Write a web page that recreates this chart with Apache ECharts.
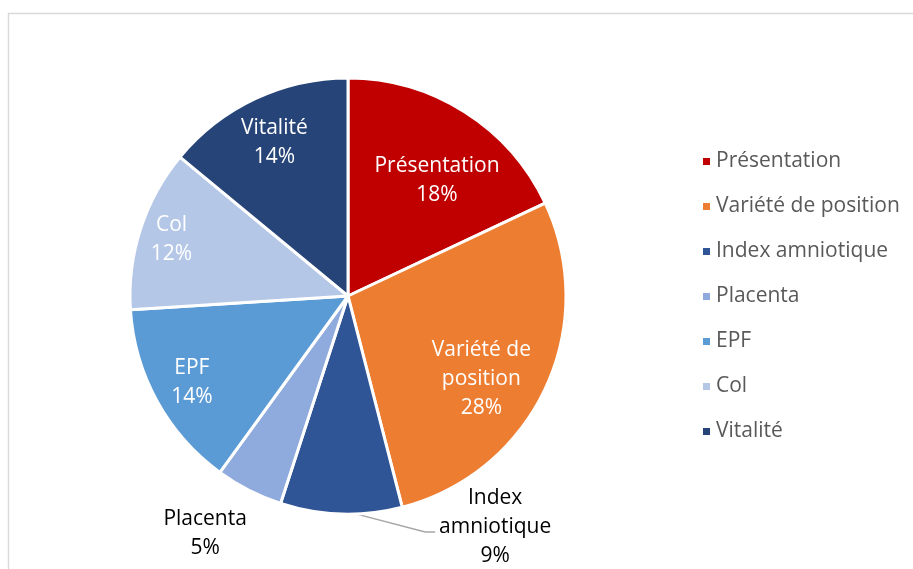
<!DOCTYPE html>
<html>
<head>
<meta charset="utf-8">
<script src="https://cdn.jsdelivr.net/npm/echarts@6/dist/echarts.min.js"></script>
<style>html,body{margin:0;padding:0;background:#fff;}#c{width:913px;height:569px;}</style>
</head>
<body>
<div id="c"></div>
<script>
const categories = ['Présentation', 'Variété de position', 'Index amniotique', 'Placenta', 'EPF', 'Col', 'Vitalité'];
const values = [18, 28, 9, 5, 14, 12, 14];
const colors = ['#C00000', '#ED7D31', '#2F5597', '#8FAADC', '#5B9BD5', '#B4C7E7', '#264478'];
// label styling per slice (offsets relative to the default inside position)
const labelOffsets = [[29, -21], [32, 35], null, [-92, 138], [-58, 33], [-70, -22], [-26, -52]];
const wrapLabel = [false, true, true, false, false, false, false];

const FONT = 'Open Sans';
const chart = echarts.init(document.getElementById('c'), null, {renderer: 'canvas'});

const data = categories.map((name, i) => {
  const item = {name: name, value: values[i], itemStyle: {color: colors[i]}};
  if (i === 2) {
    item.label = {position: 'outside', color: '#000'};
    item.labelLine = {show: true, length: 10, length2: 10, lineStyle: {color: '#a6a6a6', width: 1.5}};
  } else {
    item.label = {position: 'inside', offset: labelOffsets[i], color: i === 3 ? '#000' : '#fff'};
  }
  return item;
});

chart.setOption({
  backgroundColor: '#fff',
  animation: false,
  color: colors,
  graphic: [{
    type: 'rect', left: 6, top: 11,
    shape: {width: 930, height: 600},
    style: {fill: 'none', stroke: '#d9d9d9', lineWidth: 1.4},
    silent: true
  }],
  legend: {
    orient: 'vertical',
    left: 696,
    top: 146,
    icon: 'rect',
    itemWidth: 9,
    itemHeight: 9,
    itemGap: 24,
    data: categories,
    textStyle: {fontFamily: FONT, fontSize: 21, color: '#595959', lineHeight: 21}
  },
  series: [{
    type: 'pie',
    center: [348, 296],
    radius: [0, 218],
    startAngle: 90,
    clockwise: true,
    avoidLabelOverlap: false,
    itemStyle: {borderColor: '#fff', borderWidth: 3},
    label: {
      show: true,
      fontFamily: FONT,
      fontSize: 21,
      lineHeight: 29,
      align: 'center',
      formatter: p => {
        const n = wrapLabel[p.dataIndex] ? p.name.replace(/ (?=[^ ]*$)/, '\n') : p.name;
        return n + '\n' + Math.round(p.percent) + '%';
      }
    },
    labelLine: {show: false},
    labelLayout: function (p) {
      if (p.dataIndex === 2 && p.labelLinePoints) {
        const s = p.labelLinePoints[0];
        return {
          x: s[0] + 154, y: s[1] + 13,
          align: 'center', verticalAlign: 'middle',
          labelLinePoints: [[s[0] + 7, s[1] - 2], [s[0] + 84, s[1] + 18], [s[0] + 94, s[1] + 18]]
        };
      }
    },
    data: data
  }]
});
</script>
</body>
</html>
